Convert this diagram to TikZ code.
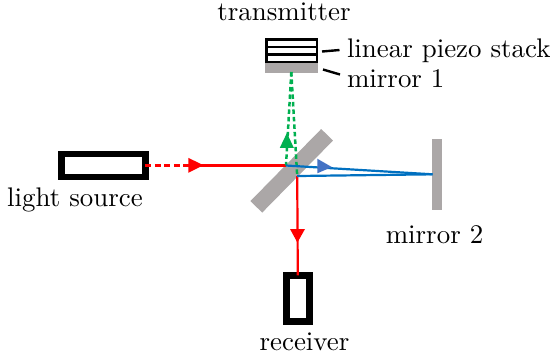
\documentclass[tikz,border=0pt]{standalone}
\definecolor{mirrorgray}{HTML}{ABA7A7}
\definecolor{beamgreen}{HTML}{00B050}
\definecolor{beamblue}{HTML}{0070C0}
\definecolor{tipblue}{HTML}{4472C4}
\newcommand{\pxu}{0.3846pt}
\tikzset{
  lab/.style={inner sep=0pt, outer sep=0pt, anchor=base, scale=1.035},
  labl/.style={inner sep=0pt, outer sep=0pt, anchor=base west, scale=1.035},
  thickbox/.style={draw=black, line width=6.4*\pxu, fill=white, inner sep=0pt, outer sep=0pt},
  mirrorbox/.style={fill=mirrorgray, inner sep=0pt, outer sep=0pt},
  red beam/.style={red, line width=2.2*\pxu},
  green beam/.style={beamgreen, line width=2.5*\pxu, dash pattern=on 4.5*\pxu off 3*\pxu},
  blue beam/.style={beamblue, line width=2.2*\pxu},
  leader/.style={black, line width=2.4*\pxu},
  piezo/.style={draw=black, line width=2.6*\pxu, inner sep=0pt, outer sep=0pt}
}
\begin{document}
\begin{tikzpicture}[x=\pxu,y=-\pxu]
\useasboundingbox (0,0) rectangle (551,356);
% beam splitter and mirrors
\node[mirrorbox, minimum width=101*\pxu, minimum height=16.5*\pxu, rotate=45.5] (splitter) at (291.7,170.8) {};
\node[mirrorbox, minimum width=10*\pxu, minimum height=71*\pxu] (mirror2) at (437,174.5) {};
\node[mirrorbox, minimum width=53*\pxu, minimum height=10.5*\pxu] (mirror1) at (291.7,68) {};
% piezo stack
\node[piezo, minimum width=50.5*\pxu, minimum height=22.5*\pxu] (stack) at (291.7,50.8) {};
\coordinate (s1l) at (266.5,46.9); \coordinate (s1r) at (317,46.9);
\coordinate (s2l) at (266.5,54.5); \coordinate (s2r) at (317,54.5);
\draw[leader] (s1l) -- (s1r);
\draw[leader] (s2l) -- (s2r);
% source and receiver
\node[thickbox, minimum width=84*\pxu, minimum height=22.6*\pxu] (source) at (103.3,165.5) {};
\node[thickbox, minimum width=23*\pxu, minimum height=46*\pxu] (receiver) at (297.8,298.3) {};
% beam points
\coordinate (hitA) at (286,165.5);
\coordinate (hitB) at (297.2,176);
\coordinate (top) at (291.3,72);
\coordinate (far) at (432.5,174.3);
\coordinate (solidR) at (189,165.5);
% red
\draw[red beam, dash pattern=on 6*\pxu off 3.5*\pxu] (source.east) -- (solidR);
\draw[red beam] (solidR) -- (hitA);
\draw[red beam] (hitB) -- (receiver.north);
\fill[red] (188.3,157.8) -- (203.3,165.2) -- (188.3,172.8) -- cycle;
\fill[red] (290,229) -- (305,229) -- (297.4,242.5) -- cycle;
% green
\draw[green beam] (top) -- (hitA);
\draw[green beam] (top) -- (hitB);
\fill[beamgreen] (279.8,147.8) -- (293.8,147.8) -- (286.9,133) -- cycle;
% blue
\draw[blue beam] (hitA) -- (far);
\draw[blue beam] (far) -- (hitB);
\fill[tipblue] (317.3,158.7) -- (331.8,167) -- (317.3,173.3) -- cycle;
% leaders
\coordinate (l1a) at (322,51.5); \coordinate (l1b) at (339.5,50);
\coordinate (l2a) at (323,69.5); \coordinate (l2b) at (340,74.5);
\draw[leader] (l1a) -- (l1b);
\draw[leader] (l2a) -- (l2b);
% labels
\node[lab] (ltrans) at (284,20) {transmitter};
\node[labl] (lstack) at (347,57) {linear piezo stack};
\node[labl] (lm1) at (347,87) {mirror 1};
\node[lab] (lsource) at (75,206) {light source};
\node[lab] (lm2) at (434.5,243) {mirror 2};
\node[lab] (lrec) at (304.5,350) {receiver};
\end{tikzpicture}
\end{document}
